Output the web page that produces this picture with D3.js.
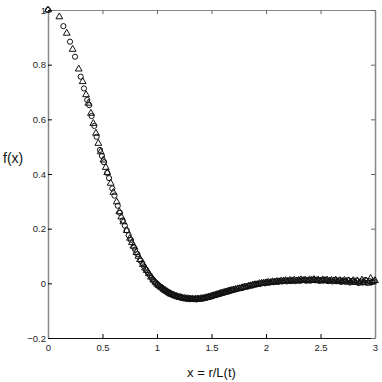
<!DOCTYPE html>
<html>
<head>
<meta charset="utf-8">
<script src="https://cdn.jsdelivr.net/npm/d3@7"></script>
<style>
  body { margin: 0; background: #fff; }
  svg { display: block; font-family: "Liberation Sans", Arial, sans-serif; }
</style>
</head>
<body>
<div id="chart"></div>
<script>
/* Data: two series (triangles, circles) of f(x) vs x = r/L(t) */
const xTicks = [0, 0.5, 1, 1.5, 2, 2.5, 3];
const yTicks = [-0.2, 0, 0.2, 0.4, 0.6, 0.8, 1];

const triX = [0, 0.104, 0.172, 0.226, 0.282, 0.318, 0.349, 0.370, 0.394, 0.416, 0.440, 0.462, 0.483, 0.508, 0.530, 0.544, 0.575, 0.600, 0.630, 0.654, 0.672, 0.691, 0.722, 0.752, 0.770, 0.783, 0.810, 0.830, 0.844, 0.870, 0.890, 0.905, 0.925, 0.945, 0.966, 0.985,
  1.000, 1.015, 1.030, 1.045, 1.060, 1.075, 1.090, 1.105, 1.118, 1.130, 1.145, 1.160, 1.175, 1.190, 1.205, 1.220, 1.235, 1.250, 1.265, 1.280, 1.295, 1.310, 1.325, 1.340, 1.355, 1.370, 1.385, 1.400, 1.415, 1.430, 1.445, 1.460, 1.475, 1.490,
  1.505, 1.520, 1.535, 1.550, 1.565, 1.580, 1.595, 1.610, 1.625, 1.640, 1.655, 1.670, 1.685, 1.700, 1.72, 1.74, 1.76, 1.78, 1.80, 1.82, 1.84, 1.86, 1.88, 1.90, 1.92, 1.94, 1.96, 1.98,
  2.00, 2.02, 2.04, 2.06, 2.08, 2.10, 2.12, 2.14, 2.16, 2.18, 2.20, 2.22, 2.24, 2.26, 2.28, 2.30, 2.32, 2.34, 2.36, 2.38, 2.40, 2.42, 2.44, 2.46, 2.48,
  2.50, 2.52, 2.54, 2.56, 2.58, 2.60, 2.62, 2.64, 2.66, 2.68, 2.70, 2.72, 2.74, 2.76, 2.78, 2.80, 2.82, 2.84, 2.86, 2.88, 2.90, 2.92, 2.94, 2.96, 2.98, 3.00];
const triY = [1, 0.975, 0.915, 0.856, 0.784, 0.738, 0.690, 0.659, 0.622, 0.585, 0.549, 0.512, 0.481, 0.451, 0.424, 0.405, 0.366, 0.333, 0.298, 0.262, 0.243, 0.225, 0.193, 0.165, 0.149, 0.136, 0.113, 0.099, 0.087, 0.069, 0.056, 0.047, 0.035, 0.023, 0.012, 0.004,
  -0.003, -0.008, -0.013, -0.017, -0.022, -0.026, -0.030, -0.034, -0.037, -0.040, -0.042, -0.045, -0.047, -0.049, -0.051, -0.052, -0.054, -0.055, -0.056, -0.056, -0.057, -0.058, -0.057, -0.059, -0.058, -0.057, -0.058, -0.056, -0.056, -0.055, -0.053, -0.052, -0.050, -0.049,
  -0.046, -0.045, -0.043, -0.041, -0.040, -0.037, -0.036, -0.034, -0.032, -0.031, -0.028, -0.027, -0.026, -0.024, -0.022, -0.020, -0.019, -0.016, -0.014, -0.013, -0.010, -0.009, -0.006, -0.005, -0.004, -0.001, 0.000, 0.001,
  0.002, 0.004, 0.003, 0.006, 0.005, 0.007, 0.006, 0.009, 0.008, 0.010, 0.008, 0.011, 0.009, 0.012, 0.009, 0.011, 0.013, 0.010, 0.012, 0.009, 0.013, 0.011, 0.014, 0.010, 0.012,
  0.009, 0.013, 0.010, 0.012, 0.008, 0.011, 0.009, 0.012, 0.006, 0.010, 0.007, 0.011, 0.005, 0.009, 0.004, 0.010, 0.003, 0.008, 0.002, 0.012, 0.004, 0.009, 0.001, 0.018, 0.006, 0.010];

const circX = [0, 0.141, 0.202, 0.248, 0.300, 0.330, 0.360, 0.378, 0.400, 0.425, 0.446, 0.477, 0.495, 0.514, 0.544, 0.560, 0.590, 0.610, 0.640, 0.660, 0.685, 0.705, 0.722, 0.740, 0.760, 0.790, 0.800, 0.820, 0.850, 0.865, 0.880, 0.900, 0.915, 0.935, 0.950, 0.960, 0.975, 0.992,
  1.008, 1.022, 1.038, 1.052, 1.068, 1.082, 1.098, 1.112, 1.125, 1.138, 1.152, 1.168, 1.182, 1.198, 1.212, 1.228, 1.242, 1.258, 1.272, 1.288, 1.302, 1.318, 1.332, 1.348, 1.362, 1.378, 1.392, 1.408, 1.422, 1.438, 1.452, 1.468, 1.482, 1.498,
  1.512, 1.528, 1.542, 1.558, 1.572, 1.588, 1.602, 1.618, 1.632, 1.648, 1.662, 1.678, 1.692, 1.71, 1.73, 1.75, 1.77, 1.79, 1.81, 1.83, 1.85, 1.87, 1.89, 1.91, 1.93, 1.95, 1.97, 1.99,
  2.01, 2.03, 2.05, 2.07, 2.09, 2.11, 2.13, 2.15, 2.17, 2.19, 2.21, 2.23, 2.25, 2.27, 2.29, 2.31, 2.33, 2.35, 2.37, 2.39, 2.41, 2.43, 2.45, 2.47, 2.49,
  2.51, 2.53, 2.55, 2.57, 2.59, 2.61, 2.63, 2.65, 2.67, 2.69, 2.71, 2.73, 2.75, 2.77, 2.79, 2.81, 2.83, 2.85, 2.87, 2.89, 2.91, 2.93, 2.95, 2.97, 2.99];
const circY = [1, 0.941, 0.884, 0.829, 0.756, 0.713, 0.671, 0.652, 0.612, 0.576, 0.536, 0.488, 0.466, 0.443, 0.404, 0.385, 0.347, 0.321, 0.284, 0.258, 0.230, 0.211, 0.194, 0.176, 0.159, 0.131, 0.123, 0.107, 0.083, 0.074, 0.062, 0.050, 0.040, 0.029, 0.020, 0.014, 0.007, 0.001,
  -0.005, -0.010, -0.015, -0.019, -0.024, -0.028, -0.032, -0.035, -0.038, -0.041, -0.043, -0.046, -0.048, -0.050, -0.051, -0.053, -0.055, -0.055, -0.057, -0.056, -0.058, -0.057, -0.058, -0.057, -0.059, -0.056, -0.057, -0.055, -0.056, -0.053, -0.053, -0.050, -0.050, -0.047,
  -0.046, -0.043, -0.043, -0.040, -0.039, -0.036, -0.035, -0.033, -0.032, -0.029, -0.029, -0.026, -0.025, -0.022, -0.021, -0.018, -0.017, -0.015, -0.012, -0.011, -0.008, -0.008, -0.005, -0.004, -0.002, -0.001, 0.001, 0.000,
  0.003, 0.002, 0.005, 0.004, 0.007, 0.005, 0.008, 0.007, 0.010, 0.007, 0.010, 0.008, 0.011, 0.008, 0.012, 0.009, 0.011, 0.013, 0.010, 0.012, 0.010, 0.013, 0.011, 0.013, 0.009,
  0.012, 0.010, 0.013, 0.008, 0.011, 0.007, 0.012, 0.008, 0.011, 0.005, 0.009, 0.006, 0.012, 0.003, 0.009, 0.005, 0.011, 0.001, 0.007, 0.003, 0.012, 0.002, 0.008, 0.004, 0.007];

const width = 382, height = 382;
const margins = {top: 10, right: 7, bottom: 44, left: 48};

const svg = d3.select("#chart")
  .append("svg")
    .attr("width", width)
    .attr("height", height)
    .attr("viewBox", [0, 0, width, height]);

const xScale = d3.scaleLinear()
  .domain([0, 3])
  .range([margins.left, width - margins.right]);

const yScale = d3.scaleLinear()
  .domain([-0.2, 1])
  .range([height - margins.bottom, margins.top]);

const fmt = d => d3.format("")(+d.toFixed(1));

// axes, MATLAB style: box all round, ticks pointing inward
svg.append("g")
  .attr("transform", `translate(0,${height - margins.bottom})`)
  .call(d3.axisBottom(xScale).tickValues(xTicks).tickSizeInner(-4).tickSizeOuter(0).tickPadding(6).tickFormat(fmt))
  .call(g => g.select(".domain").attr("stroke", "#111"));

svg.append("g")
  .attr("transform", `translate(0,${margins.top})`)
  .call(d3.axisTop(xScale).tickValues(xTicks).tickSizeInner(-4).tickSizeOuter(0).tickFormat(""))
  .call(g => g.select(".domain").attr("stroke", "#888"))
  .call(g => g.selectAll(".tick line").attr("stroke", "#666"));

svg.append("g")
  .attr("transform", `translate(${margins.left},0)`)
  .call(d3.axisLeft(yScale).tickValues(yTicks).tickSizeInner(-4).tickSizeOuter(0).tickPadding(2).tickFormat(fmt))
  .call(g => g.select(".domain").attr("stroke", "#888").attr("stroke-width", 1.5));

svg.append("g")
  .attr("transform", `translate(${width - margins.right},0)`)
  .call(d3.axisRight(yScale).tickValues(yTicks).tickSizeInner(-4).tickSizeOuter(0).tickFormat(""))
  .call(g => g.select(".domain").attr("stroke", "#888").attr("stroke-width", 1.5))
  .call(g => g.selectAll(".tick line").attr("stroke", "#666"));

svg.selectAll(".tick text")
  .attr("font-size", 9.5)
  .attr("font-family", "Liberation Sans, Arial, sans-serif")
  .attr("fill", "#222");

// markers
const triangles = d3.range(triX.length).map(i => ({x: triX[i], y: triY[i]}));
const circles = d3.range(circX.length).map(i => ({x: circX[i], y: circY[i]}));

const triSym = d3.symbol().type(d3.symbolTriangle).size(20);

svg.append("g")
  .attr("class", "triangles")
  .selectAll("path")
  .data(triangles)
  .join("path")
    .attr("transform", d => `translate(${xScale(d.x)},${yScale(d.y)})`)
    .attr("d", triSym)
    .attr("fill", "none")
    .attr("stroke", "#111")
    .attr("stroke-width", 1);

svg.append("g")
  .attr("class", "circles")
  .selectAll("circle")
  .data(circles)
  .join("circle")
    .attr("cx", d => xScale(d.x))
    .attr("cy", d => yScale(d.y))
    .attr("r", 2.6)
    .attr("fill", "none")
    .attr("stroke", "#111")
    .attr("stroke-width", 1);

// axis labels
svg.append("text")
  .attr("x", (margins.left + width - margins.right) / 2)
  .attr("y", 377)
  .attr("text-anchor", "middle")
  .attr("font-size", 13)
  .attr("fill", "#111")
  .text("x = r/L(t)");

svg.append("text")
  .attr("x", 3)
  .attr("y", 163)
  .attr("font-size", 14)
  .attr("fill", "#111")
  .text("f(x)");
</script>
</body>
</html>
